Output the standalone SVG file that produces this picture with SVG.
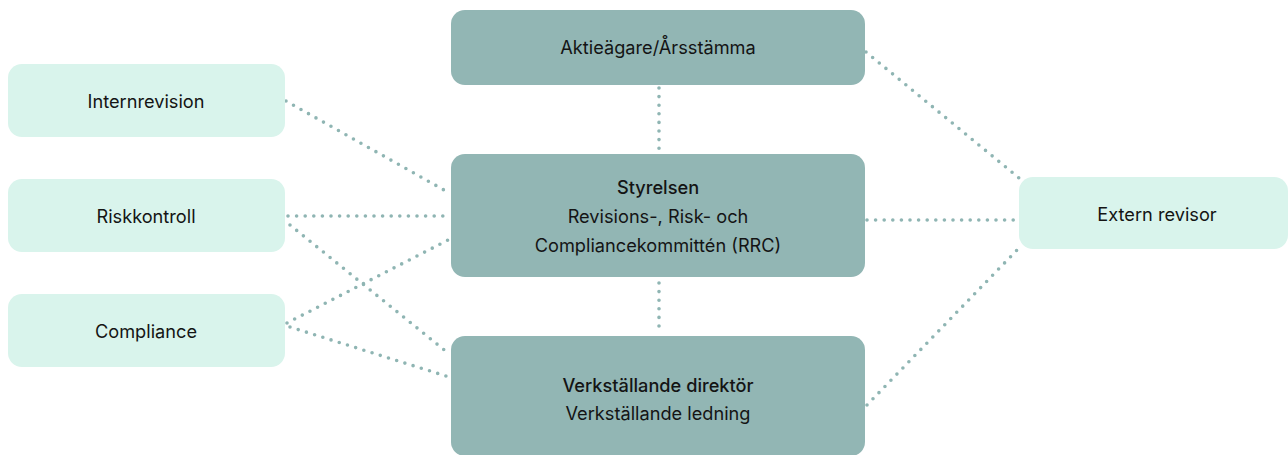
<svg xmlns="http://www.w3.org/2000/svg" width="1288" height="455" viewBox="0 0 1288 455">
<style>
.dark{fill:#92b6b4}
.light{fill:#d9f4ec}
text{font-family:Inter,"Liberation Sans",sans-serif;font-size:18.2px;fill:#141414;text-anchor:middle}
.b{font-weight:450}
.c line{stroke:#8fb5b3;stroke-width:3.6;stroke-linecap:round;stroke-dasharray:0 8.6;fill:none}
</style>
<rect width="1288" height="455" fill="#ffffff"/>
<g class="c" id="connectors">
<line x1="659" y1="88" x2="659" y2="150"/>
<line x1="659" y1="283" x2="659" y2="333"/>
<line x1="286" y1="101" x2="444" y2="190"/>
<line x1="288" y1="216" x2="448" y2="216"/>
<line x1="290" y1="225" x2="448" y2="353"/>
<line x1="287" y1="323" x2="450" y2="239"/>
<line x1="290" y1="327" x2="446" y2="376"/>
<line x1="866" y1="52" x2="1019" y2="178"/>
<line x1="867" y1="220" x2="1020" y2="220"/>
<line x1="867" y1="405" x2="1019" y2="248"/>
</g>
<g id="aktieagare"><rect class="dark" x="451" y="10" width="414" height="75" rx="14"/><text x="658" y="54">Aktieägare/Årsstämma</text></g>
<g id="styrelsen"><rect class="dark" x="451" y="154" width="414" height="123" rx="14"/><text class="b" x="658" y="194">Styrelsen</text><text x="658" y="223">Revisions-, Risk- och</text><text x="658" y="252">Compliancekommittén (RRC)</text></g>
<g id="vd"><rect class="dark" x="451" y="336" width="414" height="120" rx="14"/><text class="b" x="658" y="392">Verkställande direktör</text><text x="658" y="420">Verkställande ledning</text></g>
<g id="internrevision"><rect class="light" x="8" y="64" width="277" height="73" rx="14"/><text x="146" y="108">Internrevision</text></g>
<g id="riskkontroll"><rect class="light" x="8" y="179" width="277" height="73" rx="14"/><text x="146" y="223">Riskkontroll</text></g>
<g id="compliance"><rect class="light" x="8" y="294" width="277" height="73" rx="14"/><text x="146" y="338">Compliance</text></g>
<g id="extern"><rect class="light" x="1019" y="177" width="269" height="72" rx="14"/><text x="1157" y="221">Extern revisor</text></g>
</svg>
